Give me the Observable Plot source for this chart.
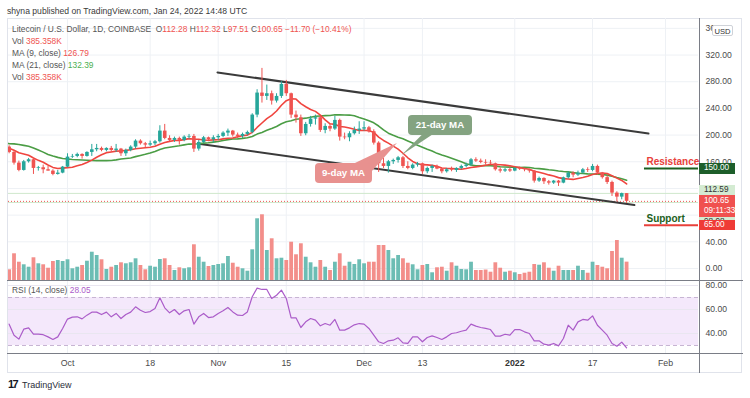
<!DOCTYPE html>
<html><head><meta charset="utf-8">
<script src="https://cdn.jsdelivr.net/npm/d3@7"></script>
<script src="https://cdn.jsdelivr.net/npm/@observablehq/plot@0.6"></script>
<style>
html,body{margin:0;padding:0;background:#fff;}
#wrap{position:relative;width:750px;height:398px;overflow:hidden;background:#fff;font-family:"Liberation Sans",Arial,sans-serif;}
#wrap svg{position:absolute;left:0;top:0;}
.a{position:absolute;white-space:nowrap;}
.g{color:#555}.r{color:#ef5350}.gr{color:#4caf50}
</style></head><body><div id="wrap"></div>
<script>
// ---------------- data ----------------
const firstDay = "2021-09-19", lastDay = "2022-01-24";
const open = [
 182,174,158,147,160,163,150,151,148,146,141,143,
 152,167,168,171,168,174,178,180,177,180,177,179,172,177,182,191,187,185,187,190,206,195,192,195,192,197,198,179,189,196,193,
 196,198,203,206,200,198,201,204,230,263,258,262,251,258,276,262,230,226,202,216,224,226,207,213,209,222,197,196,202,207,
 209,211,205,188,157,153,160,162,166,153,150,155,157,145,150,153,149,145,148,147,150,153,155,163,161,159,158,157,148,146,148,
 146,150,149,148,146,131,135,130,128,131,128,136,143,140,143,148,147,153,143,136.2,129,113,107,112.28];
const high = [
 184,176,161,162,165,164,153,155,153,148,147,153,
 172,171,173,172,175,186,186,182,181,183,186,180,179,184,193,193,189,191,192,214,216,199,197,197,199,201,201,192,198,197,199,
 201,205,209,207,203,203,206,232,268,300,275,266,262,280,282,263,236,230,219,228,230,228,217,216,228,224,203,205,212,220,
 220,213,208,190,165,162,164,168,168,160,157,159,158,152,155,155,150,150,152,151,155,158,165,166,164,163,162,158,151,150,151,
 151,152,150,149,147,137,136,132,132,132,137,145,145,146,150,151,156,155,144,139,131,115,113,112.32];
const low = [
 172,155,145,146,158,141,146,142,146,139,140,142,
 151,165,166,164,167,168,175,175,175,174,174,168,168,175,179,185,181,183,184,188,193,190,189,185,190,194,174,176,187,190,188,
 192,196,198,197,195,195,199,202,226,248,252,245,248,255,258,225,218,198,199,212,215,204,202,205,207,191,193,190,200,201,
 206,203,185,144,150,143,156,158,150,148,148,152,141,142,144,148,142,143,145,144,148,151,153,159,157,155,156,146,143,144,144,
 145,147,145,143,128,129,126,125,126,123,127,134,136,138,142,144,145,140,134,126,108,100,103,97.51];
const close = [
 174,158,147,160,163,150,151,148,146,141,143,152,
 167,168,171,168,174,178,180,177,180,177,179,172,177,182,191,187,185,187,190,206,195,192,195,192,197,198,179,189,196,193,196,
 198,203,206,200,198,201,204,230,263,258,262,251,258,276,262,230,226,202,216,224,226,207,213,209,222,197,196,202,207,209,
 211,205,188,157,153,160,162,166,153,150,155,157,145,150,153,149,145,148,147,150,153,155,163,161,159,158,157,148,146,148,146,
 150,149,148,146,131,135,130,128,131,128,136,143,140,143,148,147,153,143,136.2,129,113,107,112.28,100.65];
// volume in thousands
const volume = [
 225,561,384,330,279,477,351,330,258,399,420,399,
 435,246,279,315,405,594,525,435,231,279,315,372,351,372,456,315,225,300,279,441,456,315,210,267,246,267,750,489,384,294,315,
 336,351,504,363,279,246,195,645,1296,1380,630,876,456,468,420,804,540,771,489,372,279,420,279,210,384,561,300,384,336,435,
 351,384,384,735,735,630,456,525,456,363,330,225,315,336,162,267,279,195,372,300,231,225,384,210,210,220,174,372,258,174,195,
 162,126,153,174,336,321,372,258,195,300,210,210,210,300,210,153,384,315,279,246,609,840,468,385.358];
const rsi = [
 47.8,38.6,35.3,43.6,44.7,39.4,39.4,39.0,37.2,35.0,37.2,44.2,
 52.0,53.6,53.9,52.2,55.3,57.8,57.8,55.8,57.8,53.9,56.7,52.5,55.8,57.8,62.2,59.4,57.5,58.3,60.8,69.7,61.4,57.2,60.0,55.8,58.9,60.0,47.8,53.9,56.7,53.3,53.9,
 56.7,58.9,61.7,58.0,55.3,55.0,58.0,70.6,77.8,76.7,76.7,69.2,71.9,76.1,69.2,53.1,53.1,45.0,49.7,52.5,51.1,46.4,48.3,46.9,51.7,42.8,42.8,44.7,47.2,48.3,
 47.8,44.2,38.6,33.1,31.7,33.9,34.4,36.4,32.2,31.7,37.2,37.2,33.1,36.7,38.0,36.7,35.0,37.2,40.0,40.6,41.9,42.8,47.8,46.1,45.0,44.2,43.3,37.8,37.8,39.4,38.6,
 43.3,43.3,41.4,40.0,33.9,33.9,31.1,30.3,31.7,29.7,35.8,46.9,42.8,49.7,51.7,51.1,54.7,46.9,42.8,38.6,31.7,29.4,32.8,28.05];
// closes before the visible window (feed the moving averages)
const preFirstDay = "2021-08-30";
const preClose = [165,168,185,190,205,215,215,220,190,185,190,180,185,180,176,182,186,183,174,182];

const priceGridTicks = [0,40,80,120,160,200,240,280,320,360];
const priceLabelTicks = [0,40,160,200,240,280,320,360];
const rsiTicks = [40,60,80];
const timeTickDates = ["2021-10-01","2021-10-18","2021-11-01","2021-11-15","2021-12-01","2021-12-13","2022-01-01","2022-01-17","2022-02-01"];
const timeTickLabels = ["Oct","18","Nov","15","Dec","13","2022","17","Feb"];
const upperChannel = [{date:"2021-10-31T20:24Z",price:293.9},{date:"2022-01-28T12:00Z",price:202.4}];
const lowerChannel = [{date:"2021-10-27T22:30Z",price:187.0},{date:"2022-01-25T14:30Z",price:95.2}];
const levelNames = ["Resistance","Support"];
const levelPrices = [150,65];
const levelStart = "2022-01-27T16:20Z";
const prevClose = 112.59, dayMark = 98.98;
const changeText = "−11.70 (−10.41%)";
const ma9Text = "126.79", ma21Text = "132.39";
const calloutNames = ["21-day MA","9-day MA"];
const calloutDates = ["2021-12-10T03:00Z","2021-11-21T00:00Z"];
const calloutPrices = [229.4,157.4];

// ---------------- layout ----------------
const W=750,H=398, L=8, R=698, T=18, B=280, RT=281, RB=354;
const xDomain=[new Date("2021-09-18T20:46Z"), new Date("2022-02-07T18:58Z")];
const UP="#26a69a", DN="#ef5350", VUP="#6cbdb4", VDN="#f38e8a", GRID="#eef1f5";
const FONT="Liberation Sans, Arial, sans-serif";

const days = d3.utcDay.range(new Date(firstDay), d3.utcDay.offset(new Date(lastDay),1));
const candles = days.map((date,i)=>({date,open:open[i],high:high[i],low:low[i],close:close[i],volume:volume[i],rsi:rsi[i],up:close[i]>=open[i]}));
const preDays = d3.utcDay.range(new Date(preFirstDay), new Date(firstDay));
const closes = [...preDays.map((date,i)=>({date,close:preClose[i]})), ...candles.map(d=>({date:d.date,close:d.close}))];
const ticks = timeTickDates.map((d,i)=>({date:new Date(d),label:timeTickLabels[i]}));
const levels = levelNames.map((n,i)=>({name:n,price:levelPrices[i],start:new Date(levelStart),end:xDomain[1]}));
const chan = a=>a.map(d=>({date:new Date(d.date),price:d.price}));

function mk(marks, yDomain, top, bottom){
  return Plot.plot({width:W,height:H,marginLeft:L,marginRight:W-R,marginTop:top,marginBottom:H-bottom,
    x:{type:"utc",domain:xDomain,axis:null}, y:{domain:yDomain,axis:null}, color:{type:"identity"},
    style:{background:"transparent",overflow:"visible",fontFamily:FONT}, marks});
}
const priceDomain=[-18,374.8];
const gridPlot = mk([
  Plot.ruleY(priceGridTicks,{stroke:GRID}),
  Plot.ruleX(ticks,{x:"date",stroke:GRID})
], priceDomain, T, B);
const volPlot = mk([
  Plot.ruleX(candles,{x:"date",y1:0,y2:"volume",stroke:d=>d.up?VUP:VDN,strokeWidth:3.8,clip:true})
], [0,5502], T, B);
const main = mk([
  Plot.ruleY([prevClose, dayMark],{stroke:"#cfe8cc",clip:true}),
  Plot.ruleY([close[close.length-1]],{stroke:"#ef5350",strokeDasharray:"1,2",clip:true}),
  Plot.line(chan(upperChannel),{x:"date",y:"price",stroke:"#3a3a3a",strokeWidth:2,clip:true}),
  Plot.line(chan(lowerChannel),{x:"date",y:"price",stroke:"#3a3a3a",strokeWidth:2,clip:true}),
  Plot.lineY(closes, Plot.windowY({k:21,anchor:"end"},{x:"date",y:"close",stroke:"#4b9d45",strokeWidth:1.6,clip:true})),
  Plot.lineY(closes, Plot.windowY({k:9,anchor:"end"},{x:"date",y:"close",stroke:"#f0453f",strokeWidth:1.6,clip:true})),
  Plot.ruleX(candles,{x:"date",y1:"low",y2:"high",stroke:d=>d.up?UP:DN,strokeWidth:1,clip:true}),
  Plot.ruleX(candles,{x:"date",y1:"open",y2:"close",stroke:d=>d.up?UP:DN,strokeWidth:3.6,clip:true}),
  Plot.ruleY(levels,{y:"price",x1:"start",x2:"end",stroke:d=>d.price>100?"#1b5e20":"#e8403a",strokeWidth:2}),
  Plot.text(levels,{x:"start",y:"price",text:"name",textAnchor:"start",dx:2,dy:-6.5,fontSize:10,fontWeight:"bold",fill:d=>d.price>100?"#e8403a":"#1b5e20"}),
  Plot.text(priceLabelTicks,{y:d=>d,text:d=>d.toFixed(2),frameAnchor:"right",dx:7,textAnchor:"start",fontSize:8.6,fill:"#4a4a4a"})
], priceDomain, T, B);
const rsiPlot = mk([
  Plot.ruleX(ticks,{x:"date",stroke:GRID}),
  Plot.rectY([0],{y1:30,y2:70,fill:"#f4e8fb"}),
  Plot.ruleY(rsiTicks,{stroke:"#e9e6f0"}),
  Plot.ruleY([30,70],{stroke:"#c7b5d3",strokeDasharray:"4,3"}),
  Plot.lineY(candles,{x:"date",y:"rsi",stroke:"#ab5cc9",strokeWidth:1.2,clip:true}),
  Plot.text(rsiTicks,{y:d=>d,text:d=>d.toFixed(2),frameAnchor:"right",dx:7,textAnchor:"start",fontSize:8.6,fill:"#4a4a4a"}),
  Plot.text(ticks.filter(d=>d.label!=="2022"),{x:"date",text:"label",frameAnchor:"bottom",dy:11,fontSize:8.8,fill:"#4a4a4a"}),
  Plot.text(ticks.filter(d=>d.label==="2022"),{x:"date",text:"label",frameAnchor:"bottom",dy:11,fontSize:8.8,fontWeight:"bold",fill:"#333"})
], [22.5,83.33], RT, RB);

const wrap=document.getElementById("wrap");
function div(style, html){const d=document.createElement("div");d.className="a";Object.assign(d.style,style);if(html!=null)d.innerHTML=html;wrap.appendChild(d);return d;}
// frame & separators
div({left:"7px",top:"18px",width:"735px",height:"355px",border:"1px solid #e0e3eb",boxSizing:"border-box"});
[gridPlot, volPlot, main, rsiPlot].forEach(p=>wrap.appendChild(p));
div({left:"699px",top:"18px",width:"1px",height:"355px",background:"#7a7d86"});
div({left:"7px",top:"280px",width:"736px",height:"1px",background:"#7a7d86"});
div({left:"7px",top:"353px",width:"736px",height:"1px",background:"#7a7d86"});

// header + legend
div({left:"7px",top:"5px",fontSize:"8.6px",color:"#3a3a3a",lineHeight:"12px"},"shyna published on TradingView.com, Jan 24, 2022 14:48 UTC");
const last=candles[candles.length-1];
const legend=[
 `<span class=g>Litecoin / U.S. Dollar, 1D, COINBASE&nbsp; O</span><span class=r>${last.open.toFixed(2)}</span><span class=g> H</span><span class=r>${last.high.toFixed(2)}</span><span class=g> L</span><span class=r>${last.low.toFixed(2)}</span><span class=g> C</span><span class=r>${last.close.toFixed(2)} ${changeText}</span>`,
 `<span class=g>Vol&nbsp;</span><span class=r>${last.volume.toFixed(3)}K</span>`,
 `<span class=g>MA (9, close)&nbsp;</span><span class=r>${ma9Text}</span>`,
 `<span class=g>MA (21, close)&nbsp;</span><span class=gr>${ma21Text}</span>`,
 `<span class=g>Vol&nbsp;</span><span class=r>${last.volume.toFixed(3)}K</span>`];
legend.forEach((h,i)=>div({left:"12px",top:(23+i*11.9)+"px",fontSize:"8.4px",lineHeight:"12px"},h));
div({left:"12px",top:"284px",fontSize:"8.4px",lineHeight:"12px"},`<span class=g>RSI (14, close)&nbsp;</span><span style="color:#ab5cc9">${last.rsi.toFixed(2)}</span>`);

// axis price labels
const ys=main.scale("y"), xs=main.scale("x");
function box(top,h,bg,fg,html){return div({left:"699px",top:top+"px",width:"36px",height:h+"px",background:bg,color:fg,fontSize:"8.2px",lineHeight:"10px",paddingLeft:"5px",boxSizing:"border-box",paddingTop:((h>12)?1:(h-10)/2)+"px"},html);}
const yCur=ys.apply(last.close);
box(ys.apply(150)-5,11,"#1d5e2a","#fff","150.00");
box(yCur-15.5,10,"#d4ebd2","#333",prevClose.toFixed(2));
box(yCur-5.5,21.5,"#f0514f","#fff",last.close.toFixed(2)+"<br>09:11:33");
box(yCur+16,9.5,"#d4ebd2","#333",dayMark.toFixed(2));
box(ys.apply(65)-4.5,10,"#ef3b36","#fff","65.00");
div({left:"712px",top:"24.5px",width:"21px",height:"11px",background:"#fff",border:"1px solid #cfd2d8",borderRadius:"2px",fontSize:"7.6px",lineHeight:"11px",textAlign:"center",color:"#333",boxSizing:"border-box"},"USD");

// callouts
const cw=[64,57], ch=20, cbg=["#84a381","#e8918f"];
const tails=[[[13.7,20],[23.7,20],[-6.3,40]],[[40,0],[57,8],[82,-20]]];
const svgNS="http://www.w3.org/2000/svg";
const ov=document.createElementNS(svgNS,"svg");ov.setAttribute("width",W);ov.setAttribute("height",H);
wrap.appendChild(ov);
calloutNames.forEach((n,i)=>{
  const x0=xs.apply(new Date(calloutDates[i])), y0=ys.apply(calloutPrices[i]);
  const p=document.createElementNS(svgNS,"polygon");
  p.setAttribute("points",tails[i].map(([a,b])=>(x0+a)+","+(y0+b)).join(" "));
  p.setAttribute("fill",cbg[i]); ov.appendChild(p);
  div({left:x0+"px",top:y0+"px",width:cw[i]+"px",height:ch+"px",background:cbg[i],borderRadius:"4px",color:"#fff",fontSize:"9.7px",fontWeight:"bold",lineHeight:ch+"px",textAlign:"center"},n);
});

// footer
div({left:"8px",top:"378px",fontSize:"11px",fontWeight:"bold",color:"#131722",lineHeight:"12px",letterSpacing:"-1.5px"},"17");
div({left:"22px",top:"378.5px",fontSize:"9px",color:"#2a2e39",lineHeight:"12px"},"TradingView");
</script></body></html>
